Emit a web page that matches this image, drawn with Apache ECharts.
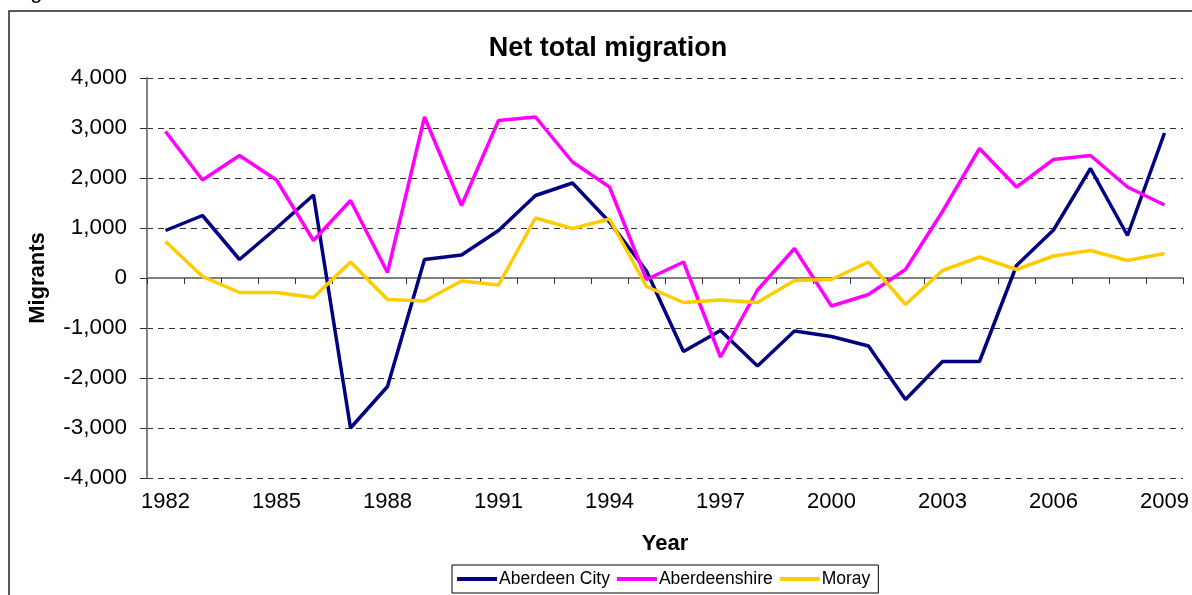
<!DOCTYPE html>
<html>
<head>
<meta charset="utf-8">
<title>Net total migration</title>
<script src="https://cdn.jsdelivr.net/npm/echarts@6/dist/echarts.min.js"></script>
<style>
	html,body{margin:0;padding:0;background:#fff;}
	#main{width:1192px;height:595px;}
</style>
</head>
<body>
<div id="main"></div>
<script>
	var years = ["1982","1983","1984","1985","1986","1987","1988","1989","1990","1991",
		"1992","1993","1994","1995","1996","1997","1998","1999","2000","2001",
		"2002","2003","2004","2005","2006","2007","2008","2009"];
	var aberdeenCity = [950, 1250, 370, 1000, 1660, -3000, -2170, 370, 460, 950,
		1650, 1900, 1120, 140, -1470, -1050, -1760, -1060, -1170, -1360,
		-2430, -1670, -1670, 250, 960, 2190, 850, 2900];
	var aberdeenshire = [2930, 1960, 2450, 1960, 750, 1550, 110, 3220, 1450, 3150,
		3220, 2320, 1820, -30, 320, -1580, -240, 590, -560, -330,
		170, 1330, 2590, 1820, 2370, 2450, 1820, 1460];
	var moray = [730, 30, -290, -290, -390, 320, -430, -460, -60, -140,
		1200, 990, 1180, -170, -490, -440, -490, -50, -30, 320,
		-530, 150, 420, 170, 440, 550, 350, 490];
	var seriesNames = ["Aberdeen City", "Aberdeenshire", "Moray"];
	var seriesColors = ["#000080", "#FF00FF", "#FFCC00"];

	var font = "Liberation Sans, Arial, sans-serif";
	var myChart = echarts.init(document.getElementById('main'));

	var lines = [];
	var seriesData = [aberdeenCity, aberdeenshire, moray];
	for (var i = 0; i < seriesNames.length; i++) {
		lines.push({
			name: seriesNames[i],
			type: 'line',
			xAxisIndex: 0,
			data: seriesData[i],
			symbol: 'none',
			lineStyle: {width: 3.5, color: seriesColors[i]},
			itemStyle: {color: seriesColors[i]}
		});
	}

	var option = {
		animation: false,
		title: {
			text: "Net total migration",
			left: 603,
			textAlign: 'center',
			top: 30,
			textStyle: {fontFamily: font, fontSize: 27, fontWeight: 'bold', color: '#000'}
		},
		graphic: [
			{
				type: 'rect',
				shape: {x: 9, y: 11, width: 1200, height: 600},
				style: {fill: 'none', stroke: '#222', lineWidth: 1.5},
				silent: true
			},
			{
				type: 'text',
				x: 12, y: 3,
				style: {text: "Figure", font: "22px Liberation Sans", fill: '#000', verticalAlign: 'bottom'},
				silent: true
			}
		],
		legend: {
			left: 452,
			top: 565,
			padding: [5, 8, 5, 5],
			itemGap: 7,
			itemWidth: 40,
			itemHeight: 4,
			icon: 'rect',
			borderColor: '#000',
			borderWidth: 1,
			data: seriesNames,
			textStyle: {fontFamily: font, fontSize: 17.5, color: '#000', padding: [0, 0, 0, -3]}
		},
		grid: {left: 147, right: 9, top: 78, bottom: 117, containLabel: false},
		xAxis: [
			{
				// labels along the bottom
				type: 'category',
				position: 'bottom',
				data: years,
				boundaryGap: true,
				name: "Year",
				nameLocation: 'middle',
				nameGap: 55,
				nameTextStyle: {fontFamily: font, fontSize: 22, fontWeight: 'bold', color: '#000'},
				axisLine: {show: false, onZero: false},
				axisTick: {show: false},
				axisLabel: {interval: 2, margin: 13, fontFamily: font, fontSize: 22, color: '#000'},
				splitLine: {show: false}
			},
			{
				// line and ticks sitting on zero
				type: 'category',
				position: 'bottom',
				data: years,
				boundaryGap: true,
				axisLine: {show: true, onZero: true, lineStyle: {color: '#808080', width: 2}},
				axisTick: {show: true, interval: 0, length: 6, lineStyle: {color: '#333', width: 1}},
				axisLabel: {show: false},
				splitLine: {show: false}
			}
		],
		yAxis: {
			type: 'value',
			min: -4000,
			max: 4000,
			interval: 1000,
			name: "Migrants",
			nameLocation: 'middle',
			nameRotate: 90,
			nameGap: 98,
			nameTextStyle: {fontFamily: font, fontSize: 22, fontWeight: 'bold', color: '#000'},
			axisLine: {show: true, lineStyle: {color: '#808080', width: 2}},
			axisTick: {show: true, length: 7, lineStyle: {color: '#333', width: 1}},
			axisLabel: {
				margin: 20,
				fontFamily: font, fontSize: 22.5, color: '#000',
				formatter: function(v){ return v.toLocaleString('en-US'); }
			},
			splitLine: {show: true, lineStyle: {color: '#333', width: 1, type: [6, 5]}}
		},
		series: lines
	};
	myChart.setOption(option);
</script>
</body>
</html>
